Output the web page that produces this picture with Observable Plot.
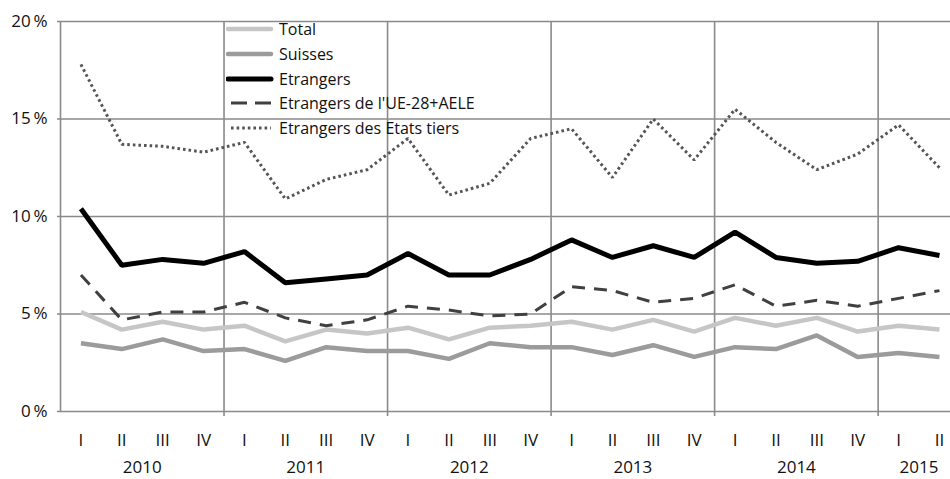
<!DOCTYPE html>
<html>
<head>
<meta charset="utf-8">
<script src="https://cdn.jsdelivr.net/npm/d3@7"></script>
<script src="https://cdn.jsdelivr.net/npm/@observablehq/plot@0.6"></script>
<style>
  html, body { margin: 0; padding: 0; background: #fff; }
  #wrap { position: relative; width: 950px; height: 479px; overflow: hidden; font-family: "Open Sans", sans-serif; }
  #legend { position: absolute; left: 226px; top: 17px; font-size: 16px; color: #111; }
  #legend .row { display: flex; align-items: center; height: 24.7px; }
  #legend svg { width: 48px; height: 10px; margin-right: 5px; flex: none; }
</style>
</head>
<body>
<div id="wrap"><div id="chart"></div><div id="legend"></div></div>
<script>
const quarters = ["I","II","III","IV","I","II","III","IV","I","II","III","IV","I","II","III","IV","I","II","III","IV","I","II"];
const years = ["2010","2011","2012","2013","2014","2015"];
const yearCenters = [1.5, 5.5, 9.5, 13.5, 17.5, 20.5];
const yearBounds = [3.5, 7.5, 11.5, 15.5, 19.5];
const yTicks = [0, 5, 10, 15, 20];

const total     = [5.1,4.2,4.6,4.2,4.4,3.6,4.2,4.0,4.3,3.7,4.3,4.4,4.6,4.2,4.7,4.1,4.8,4.4,4.8,4.1,4.4,4.2];
const suisses   = [3.5,3.2,3.7,3.1,3.2,2.6,3.3,3.1,3.1,2.7,3.5,3.3,3.3,2.9,3.4,2.8,3.3,3.2,3.9,2.8,3.0,2.8];
const etrangers = [10.4,7.5,7.8,7.6,8.2,6.6,6.8,7.0,8.1,7.0,7.0,7.8,8.8,7.9,8.5,7.9,9.2,7.9,7.6,7.7,8.4,8.0];
const ue        = [7.0,4.7,5.1,5.1,5.6,4.8,4.4,4.7,5.4,5.2,4.9,5.0,6.4,6.2,5.6,5.8,6.5,5.4,5.7,5.4,5.8,6.2];
const tiers     = [17.8,13.7,13.6,13.3,13.8,10.9,11.9,12.4,14.0,11.1,11.7,14.0,14.5,12.0,15.0,12.9,15.5,13.8,12.4,13.2,14.7,12.5];

const seriesNames = ["Total","Suisses","Etrangers","Etrangers de l'UE-28+AELE","Etrangers des Etats tiers"];
const seriesValues = [total, suisses, etrangers, ue, tiers];
const styles = [
  {stroke: "#c6c6c6", strokeWidth: 4.5},
  {stroke: "#9b9b9b", strokeWidth: 4.5},
  {stroke: "#000000", strokeWidth: 5},
  {stroke: "#404040", strokeWidth: 3, strokeDasharray: "13 9"},
  {stroke: "#555555", strokeWidth: 3, strokeDasharray: "2.6 3"}
];

const idx = quarters.map((_, i) => i);
const gridColor = "#8a8a8a";

const lineMarks = seriesValues.map((vals, k) =>
  Plot.line(idx, {x: i => i, y: i => vals[i], ...styles[k], strokeLinejoin: "miter", strokeLinecap: "butt"})
);

const chart = Plot.plot({
  width: 950,
  height: 479,
  marginLeft: 60,
  marginRight: 0,
  marginTop: 21,
  marginBottom: 68,
  style: {fontFamily: "Open Sans, sans-serif", background: "white"},
  x: {type: "linear", domain: [-0.5, 21.27], axis: null},
  y: {domain: [0, 20], axis: null},
  marks: [
    Plot.ruleY(yTicks, {stroke: gridColor, strokeWidth: 1.6, insetLeft: -3}),
    Plot.ruleX([-0.5], {stroke: gridColor, strokeWidth: 1.6}),
    Plot.ruleX(yearBounds, {stroke: gridColor, strokeWidth: 1.6, insetBottom: -5}),
    ...lineMarks,
    Plot.text(yTicks, {x: -0.5, y: d => d, text: d => d + "\u2009%", textAnchor: "end", dx: -13, fontSize: 17, fill: "#111"}),
    Plot.text(idx, {x: i => i, text: i => quarters[i], frameAnchor: "bottom", dy: 29, lineAnchor: "middle", fontSize: 17, fill: "#111"}),
    Plot.text(years, {x: (d, i) => yearCenters[i], text: d => d, frameAnchor: "bottom", dy: 56, lineAnchor: "middle", fontSize: 17, fill: "#111"})
  ]
});
document.getElementById("chart").appendChild(chart);

const legend = document.getElementById("legend");
seriesNames.forEach((name, k) => {
  const s = styles[k];
  const row = document.createElement("div");
  row.className = "row";
  const x1 = k >= 3 ? 5 : 2;
  row.innerHTML = `<svg viewBox="0 0 48 10"><line x1="${x1}" x2="45" y1="5" y2="5" stroke="${s.stroke}" stroke-width="${s.strokeWidth}" stroke-linecap="${k < 3 ? 'round' : 'butt'}" ${s.strokeDasharray ? `stroke-dasharray="${k === 3 ? '16 8' : s.strokeDasharray}"` : ""}/></svg><span>${name}</span>`;
  legend.appendChild(row);
});
</script>
</body>
</html>
